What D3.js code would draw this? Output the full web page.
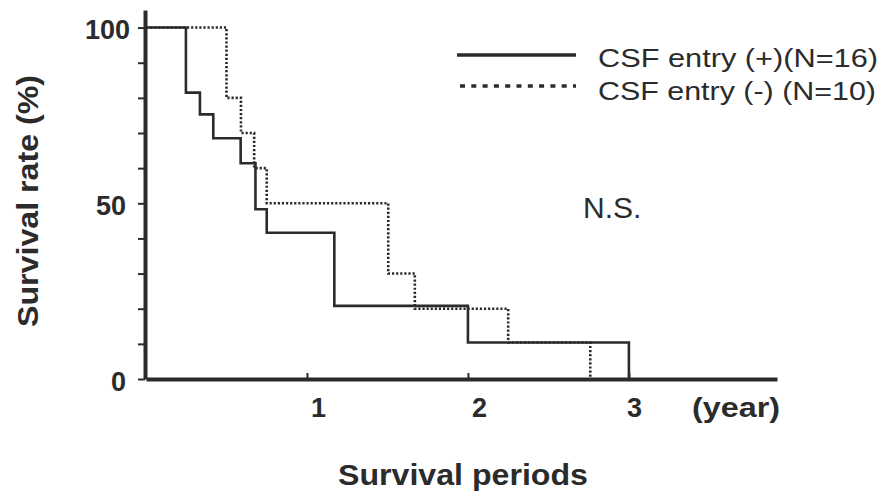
<!DOCTYPE html>
<html>
<head>
<meta charset="utf-8">
<script src="https://cdn.jsdelivr.net/npm/d3@7"></script>
<style>
  html, body { margin: 0; padding: 0; background: #fff; }
  svg { display: block; font-family: "Liberation Sans", Arial, Helvetica, sans-serif; }
</style>
</head>
<body>
<svg id="chart" width="894" height="496"></svg>
<script>
// Kaplan–Meier survival, CSF entry (+) vs (-)
const csfPosTimes  = [0, 0.248, 0.335, 0.418, 0.588, 0.68, 0.75, 1.17, 2.0, 3.0];
const csfPosValues = [100, 81.5, 75.3, 68.5, 61.4, 48.3, 41.6, 20.8, 10.4, 0];
const csfNegTimes  = [0, 0.50, 0.59, 0.672, 0.75, 1.505, 1.67, 2.25, 2.76];
const csfNegValues = [100, 80, 70, 60, 50, 30, 20, 10.4, 0];

const yTickValues = [0, 10, 20, 30, 40, 50, 60, 70, 80, 90, 100];
const yTickLabels = [0, 50, 100];
const xTickValues = [1, 2, 3];
const xUnitLabel = "(year)";
const legendLabels = ["CSF entry (+)(N=16)", "CSF entry (-) (N=10)"];
const noteLabel = "N.S.";
const xTitle = "Survival periods";
const yTitle = "Survival rate (%)";

const ink = "#2b2b2b";
const svg = d3.select("#chart");

const x = d3.scaleLinear().domain([0, 3.92]).range([146, 777]);
const y = d3.scaleLinear().domain([0, 105]).range([379, 10]);

// y axis: outward minor ticks every 10 %, labels at 0 / 50 / 100
const yAxis = d3.axisLeft(y)
  .tickValues(yTickValues)
  .tickSize(7)
  .tickSizeOuter(0)
  .tickPadding(12)
  .tickFormat(d => yTickLabels.includes(d) ? d : "");
const gy = svg.append("g").attr("transform", `translate(${x(0) - 1},0)`).call(yAxis);
gy.select(".domain").attr("stroke", ink).attr("stroke-width", 4);
gy.selectAll(".tick line").attr("stroke", ink).attr("stroke-width", 2);
gy.selectAll(".tick text")
  .attr("fill", ink)
  .attr("font-size", 27)
  .attr("font-weight", "bold")
  .attr("font-family", "Liberation Sans, Arial, sans-serif")
  .attr("dy", "0.42em")
  .attr("dx", d => d === 100 ? 4 : 0);

// x axis: inward ticks at whole years
const xAxis = d3.axisBottom(x)
  .tickValues(xTickValues)
  .tickSize(-6)
  .tickSizeOuter(0)
  .tickFormat(d3.format("d"));
const gx = svg.append("g").attr("transform", `translate(0,${y(0)})`).call(xAxis);
gx.select(".domain").attr("stroke", ink).attr("stroke-width", 4);
gx.selectAll(".tick line").attr("stroke", ink).attr("stroke-width", 2);
gx.selectAll(".tick text")
  .attr("fill", ink)
  .attr("font-size", 27)
  .attr("font-weight", "bold")
  .attr("font-family", "Liberation Sans, Arial, sans-serif")
  .attr("y", 0)
  .attr("dy", 38)
  .attr("dx", d => d === 3 ? 5 : 11);

svg.append("text")
  .attr("x", x(3.92) - 85)
  .attr("y", y(0) + 38)
  .attr("fill", ink)
  .attr("font-size", 27)
  .attr("font-weight", "bold")
  .attr("textLength", 88)
  .attr("lengthAdjust", "spacingAndGlyphs")
  .text(xUnitLabel);

// survival curves
const line = d3.line().curve(d3.curveStepAfter).x(d => x(d[0])).y(d => y(d[1]));
const posData = csfPosTimes.map((t, i) => [t, csfPosValues[i]]);
const negData = csfNegTimes.map((t, i) => [t, csfNegValues[i]]);

svg.append("path")
  .attr("d", line(negData))
  .attr("fill", "none")
  .attr("stroke", ink)
  .attr("stroke-width", 2.6)
  .attr("stroke-dasharray", "2.2,1.9");

svg.append("path")
  .attr("d", line(posData))
  .attr("fill", "none")
  .attr("stroke", ink)
  .attr("stroke-width", 2.6);

// legend
svg.append("line")
  .attr("x1", 457).attr("x2", 576).attr("y1", 55).attr("y2", 55)
  .attr("stroke", ink).attr("stroke-width", 3.5);
svg.append("line")
  .attr("x1", 460).attr("x2", 576).attr("y1", 86).attr("y2", 86)
  .attr("stroke", ink).attr("stroke-width", 3.5)
  .attr("stroke-dasharray", "5,6.3");
legendLabels.forEach((lab, i) => {
  svg.append("text")
    .attr("x", 598)
    .attr("y", i === 0 ? 67 : 100)
    .attr("fill", ink)
    .attr("font-size", 26.5)
    .attr("textLength", i === 0 ? 280 : 278)
    .attr("lengthAdjust", "spacingAndGlyphs")
    .text(lab);
});

// significance note
svg.append("text")
  .attr("x", 583).attr("y", 218)
  .attr("fill", ink)
  .attr("font-size", 30)
  .text(noteLabel);

// axis titles
svg.append("text")
  .attr("x", 463).attr("y", 485)
  .attr("text-anchor", "middle")
  .attr("fill", ink)
  .attr("font-size", 30)
  .attr("font-weight", "bold")
  .attr("textLength", 250)
  .attr("lengthAdjust", "spacingAndGlyphs")
  .text(xTitle);

svg.append("text")
  .attr("transform", "translate(38,201) rotate(-90)")
  .attr("text-anchor", "middle")
  .attr("fill", ink)
  .attr("font-size", 30)
  .attr("font-weight", "bold")
  .attr("textLength", 252)
  .attr("lengthAdjust", "spacingAndGlyphs")
  .text(yTitle);
</script>
</body>
</html>
